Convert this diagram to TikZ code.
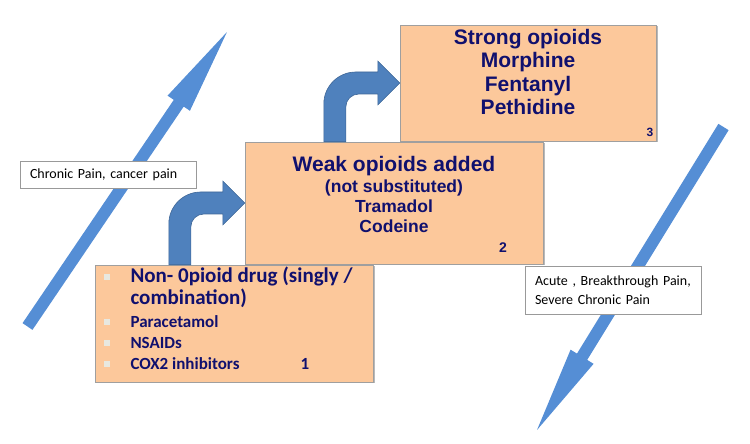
\documentclass[tikz,border=0pt]{standalone}
\usepackage{fontspec}
\setmainfont{Carlito}
\newfontfamily\headfont{Liberation Sans}
\usetikzlibrary{positioning}
\usetikzlibrary{calc}
\usetikzlibrary{shadows}
\definecolor{peach}{RGB}{252,200,155}
\definecolor{navy}{RGB}{16,16,110}
\definecolor{skyblue}{RGB}{85,142,213}
\definecolor{steelblue}{RGB}{79,129,189}
\definecolor{bulletgray}{RGB}{232,232,224}
\tikzset {
  x=1pt, y=1pt,
  % the three steps of the ladder
  stepbox/.style={draw=gray!75, fill=peach, inner sep=0pt,
    drop shadow={shadow xshift=1.5pt, shadow yshift=-1.5pt, fill=gray!55, opacity=1}},
  % long thin arrows on both sides
  pain/.style={fill=skyblue},
  % bent arrows from one step to the next
  bent/.style={fill=steelblue, draw=steelblue!80!black, line width=0.6pt},
  % white text boxes
  tagbox/.style={draw=gray!80, fill=white, inner xsep=10pt, inner ysep=0pt,
    text width=156pt, align=left, font=\fontsize{14}{18.7}\selectfont},
  bigtext/.style={navy, font=\headfont\bfseries\fontsize{21}{23}\selectfont, anchor=base},
  midtext/.style={navy, font=\headfont\bfseries\fontsize{17.5}{20}\selectfont, anchor=base},
  itemtext/.style={navy, font=\bfseries\fontsize{17}{20}\selectfont, anchor=base west},
  bullet/.style={fill=bulletgray, minimum size=6.5pt, inner sep=0pt},
}

% #1 tail, #2 tip
\newcommand{\fatarrow}[2]{%
  \fill[pain] let \p1=($(#2)-(#1)$), \n1={atan2(\y1,\x1)}, \n2={veclen(\x1,\y1)} in
    [shift={(#1)}, rotate=\n1] (0,-6) -- (\n2-86,-6) -- (\n2-86,-13.5) -- (\n2,0)
    -- (\n2-86,13.5) -- (\n2-86,6) -- (0,6) -- cycle;
}

% #1 lower step, #2 upper step
\newcommand{\bentarrow}[2]{%
  \coordinate (tip) at (#2.west);
  \coordinate (sl) at ($(tip)+(-76,0)$);
  \coordinate (sr) at ($(tip)+(-54,0)$);
  \filldraw[bent] (sl |- #1.north) -- ($(sl)+(0,-21)$)
    .. controls ($(sl)+(0,-3.3)$) and ($(sl)+(14.3,11)$) .. ($(sl)+(32,11)$)
    -- ($(tip)+(-22,11)$) -- ($(tip)+(-22,22)$) -- (tip)
    -- ($(tip)+(-22,-22)$) -- ($(tip)+(-22,-11)$) -- ($(sr)+(13,-11)$)
    .. controls ($(sr)+(5.8,-11)$) and ($(sr)+(0,-16.8)$) .. ($(sr)+(0,-24)$)
    -- (sr |- #1.north) -- cycle;
}

\begin{document}
\begin{tikzpicture}
      \useasboundingbox (0,0) rectangle (750,444);

      % side arrows
      \coordinate (uptail) at (27.5,117.5);
      \coordinate (uptip) at (227,412);
      \coordinate (downtail) at (723.5,317);
      \coordinate (downtip) at (537,14);
      \fatarrow{uptail}{uptip}
      \fatarrow{downtail}{downtip}

      % steps
      \node[stepbox, minimum width=278pt, minimum height=117pt] (step1) at (234,120.5) {};
      \node[stepbox, minimum width=298pt, minimum height=122pt] (step2) at (394,241) {};
      \node[stepbox, minimum width=256pt, minimum height=116pt] (step3) at (528,361) {};

      \bentarrow{step1}{step2}
      \bentarrow{step2}{step3}

      % step 1
      \node[itemtext, font=\bfseries\fontsize{21}{23}\selectfont] (n1) at (127,161) {Non- 0pioid drug (singly /};
      \node[itemtext, font=\bfseries\fontsize{21}{23}\selectfont] (n2) at (127,139) {combination)};
      \node[itemtext] (n3) at (127,116) {Paracetamol};
      \node[itemtext] (n4) at (127,95) {NSAIDs};
      \node[itemtext] (n5) at (127,74) {COX2 inhibitors};
      \node[bullet] (b1) at (107,167) {};
      \node[bullet] (b3) at (107,122) {};
      \node[bullet] (b4) at (107,101) {};
      \node[bullet] (b5) at (107,80) {};
      \node[itemtext, anchor=base] (one) at (305,74) {1};

      % step 2
      \node[bigtext] (w1) at (394,272) {Weak opioids added};
      \node[midtext] (w2) at (394,251) {(not substituted)};
      \node[midtext] (w3) at (394,231) {Tramadol};
      \node[midtext] (w4) at (394,211) {Codeine};
      \node[navy, font=\headfont\bfseries\fontsize{14}{16}\selectfont, anchor=base] (two) at (503,191) {2};

      % step 3
      \node[bigtext] (s1) at (528,399) {Strong opioids};
      \node[bigtext] (s2) at (528,376) {Morphine};
      \node[bigtext] (s3) at (528,352) {Fentanyl};
      \node[bigtext] (s4) at (528,329) {Pethidine};
      \node[navy, font=\headfont\bfseries\fontsize{12}{14}\selectfont, anchor=base] (three) at (650,307) {3};

      % text boxes
      \node[tagbox, minimum height=27pt] (chronic) at (108,269.5) {Chronic Pain, cancer pain};
      \node[tagbox, minimum height=48pt] (acute) at (613,154) {Acute , Breakthrough Pain,\\Severe Chronic Pain};
\end{tikzpicture}
\end{document}
